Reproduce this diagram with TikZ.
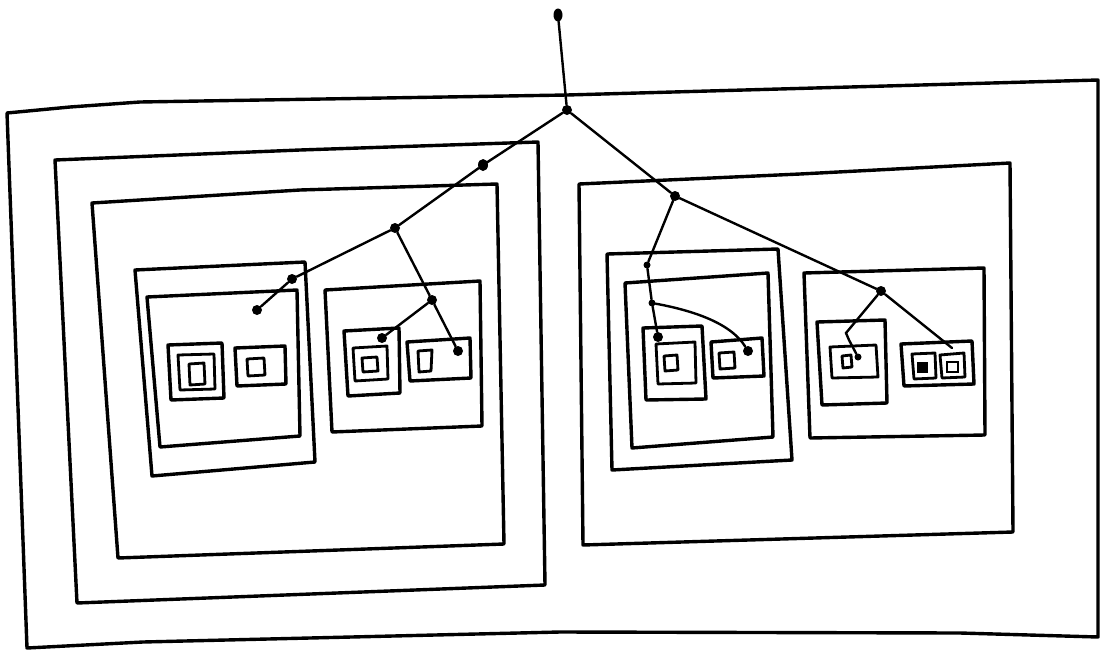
\documentclass[tikz,border=0pt]{standalone}
\usetikzlibrary{shapes.geometric}
\begin{document}
\begin{tikzpicture}[x=1pt,y=-1pt,
  frame/.style={draw=black,line width=3.4pt,line join=round,line cap=round},
  thin frame/.style={draw=black,line width=2.8pt,line join=round,line cap=round},
  edge/.style={draw=black,line width=2.4pt,line cap=round},
  dot/.style={circle,fill=black,inner sep=0pt,minimum size=10pt},
  smalldot/.style={circle,fill=black,inner sep=0pt,minimum size=7pt}]
\useasboundingbox (0,0) rectangle (1101,651);
% outer frame
\draw[frame] (7,113) -- (70,107) -- (140,102) -- (567,95) -- (1098,80) -- (1098,637) -- (960,633) -- (560,632) -- (143,642) -- (27,648) -- cycle;
% left level-1
\draw[frame] (55,160) -- (300,150) -- (538,142) -- (545,585) -- (77,603) -- cycle;
% left level-2
\draw[frame] (92,203) -- (300,190) -- (497,184) -- (504,544) -- (118,558) -- cycle;
% left-left box
\draw[frame] (135,270) -- (305,262) -- (315,462) -- (152,476) -- cycle;
\draw[frame] (147,297) -- (297,290) -- (300,436) -- (160,447) -- cycle;
\draw[frame] (168,345) -- (222,343) -- (224,398) -- (171,400) -- cycle;
\draw[thin frame] (178,355) -- (214,354) -- (215,389) -- (180,390) -- cycle;
\draw[thin frame] (189,364) -- (204,363) -- (205,384) -- (190,385) -- cycle;
\draw[frame] (235,348) -- (285,346) -- (286,384) -- (237,386) -- cycle;
\draw[thin frame] (247,359) -- (264,358) -- (265,375) -- (248,376) -- cycle;
% left-right box
\draw[frame] (325,290) -- (480,281) -- (482,426) -- (332,432) -- cycle;
\draw[frame] (344,331) -- (399,328) -- (400,393) -- (348,396) -- cycle;
\draw[thin frame] (353,348) -- (387,346) -- (388,379) -- (355,381) -- cycle;
\draw[thin frame] (362,358) -- (377,357) -- (378,371) -- (363,372) -- cycle;
\draw[frame] (407,342) -- (470,338) -- (471,378) -- (410,381) -- cycle;
\draw[thin frame] (418,351) -- (432,350) -- (431,371) -- (419,372) -- cycle;
% right level-1
\draw[frame] (579,184) -- (800,174) -- (1010,163) -- (1013,532) -- (583,545) -- cycle;
% right-left box
\draw[frame] (607,254) -- (778,249) -- (792,460) -- (612,470) -- cycle;
\draw[frame] (625,283) -- (768,273) -- (773,437) -- (632,448) -- cycle;
\draw[frame] (643,328) -- (702,326) -- (706,399) -- (646,400) -- cycle;
\draw[thin frame] (656,344) -- (695,342) -- (696,383) -- (658,384) -- cycle;
\draw[thin frame] (664,356) -- (677,355) -- (678,370) -- (665,371) -- cycle;
\draw[frame] (711,342) -- (762,338) -- (764,376) -- (713,378) -- cycle;
\draw[thin frame] (719,353) -- (734,352) -- (735,368) -- (720,369) -- cycle;
% right-right box
\draw[frame] (804,273) -- (984,268) -- (985,435) -- (810,438) -- cycle;
\draw[frame] (817,322) -- (885,320) -- (887,403) -- (822,405) -- cycle;
\draw[thin frame] (830,347) -- (876,345) -- (878,377) -- (832,378) -- cycle;
\draw[thin frame] (842,356) -- (851,355) -- (852,367) -- (843,368) -- cycle;
\draw[frame] (901,344) -- (972,341) -- (974,384) -- (904,386) -- cycle;
\draw[thin frame] (912,354) -- (935,353) -- (936,378) -- (914,379) -- cycle;
\draw[thin frame] (940,355) -- (964,353) -- (965,377) -- (942,378) -- cycle;
\fill (917,362) rectangle (928,373);
\draw[line width=1.8pt] (947,362) rectangle (958,372);
% tree nodes
\node[ellipse,fill=black,inner sep=0pt,minimum width=9pt,minimum height=13pt] (top) at (558,15) {};
\node[dot] (r) at (567,110) {};
\node[ellipse,fill=black,inner sep=0pt,minimum width=10pt,minimum height=12pt] (l1) at (483,165) {};
\node[dot] (l2) at (395,228) {};
\node[dot] (l3) at (292,279) {};
\node[dot] (l4) at (257,310) {};
\node[dot] (l5) at (432,300) {};
\node[dot] (l6) at (382,338) {};
\node[dot] (l7) at (458,351) {};
\node[dot] (q1) at (675,196) {};
\node[smalldot] (q2) at (647,265) {};
\node[smalldot] (q3) at (652,303) {};
\node[dot] (q4) at (658,337) {};
\node[dot] (q5) at (748,351) {};
\node[dot] (q6) at (881,291) {};
\coordinate (q7) at (846,333);
\node[smalldot] (q8) at (858,357) {};
\coordinate (q9) at (952,348);
% tree edges
\draw[edge] (top) -- (r);
\draw[edge] (r) -- (l1) -- (l2) -- (l3) -- (l4);
\draw[edge] (l2) -- (l5) -- (l6);
\draw[edge] (l5) -- (l7);
\draw[edge] (r) -- (q1) -- (q2) -- (q3) -- (q4);
\draw[edge] (q3) .. controls (690,310) and (730,322) .. (q5);
\draw[edge] (q1) -- (q6) -- (q7) -- (849,340) -- (q8);
\draw[edge] (q6) -- (q9);
\end{tikzpicture}
\end{document}
